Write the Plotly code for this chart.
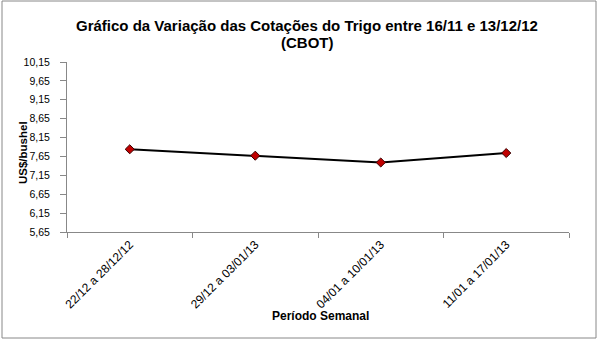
import plotly.graph_objects as go

categories = ["22/12 a 28/12/12", "29/12 a 03/01/13", "04/01 a 10/01/13", "11/01 a 17/01/13"]
values = [7.84, 7.67, 7.49, 7.74]
y_ticks = [5.65, 6.15, 6.65, 7.15, 7.65, 8.15, 8.65, 9.15, 9.65, 10.15]

W, H = 600, 340
L, R, T, B = 67, 31, 62, 108
pw, ph = W - L - R, H - T - B

def px(x):
    return (x - L) / pw

def py(y):
    return (H - B - y) / ph

fig = go.Figure()
fig.add_trace(go.Scatter(
    x=categories, y=values, mode="lines+markers",
    line=dict(color="black", width=2),
    marker=dict(symbol="diamond", size=7, color="#c00000", line=dict(color="#3a0000", width=1)),
    showlegend=False,
))

fnt = "Liberation Sans, Arial"
annotations = [
    dict(text="<b>Gráfico da Variação das Cotações do Trigo entre 16/11 e 13/12/12</b>",
         x=px(307), y=py(25), xanchor="center", yanchor="middle",
         font=dict(family=fnt, size=15, color="#000")),
    dict(text="<b>(CBOT)</b>",
         x=px(307), y=py(42), xanchor="center", yanchor="middle",
         font=dict(family=fnt, size=15, color="#000")),
    dict(text="<b>US$/bushel</b>", textangle=-90,
         x=px(23), y=py(153), xanchor="center", yanchor="middle",
         font=dict(family=fnt, size=11.5, color="#000")),
    dict(text="<b>Período Semanal</b>",
         x=px(320), y=py(316), xanchor="center", yanchor="middle",
         font=dict(family=fnt, size=12, color="#000")),
]
for a in annotations:
    a.update(xref="paper", yref="paper", showarrow=False)

fig.update_layout(
    width=W, height=H,
    margin=dict(l=L, r=R, t=T, b=B),
    paper_bgcolor="white", plot_bgcolor="white",
    separators=",.",
    font=dict(family=fnt, size=10, color="#000"),
    xaxis=dict(
        showline=True, linecolor="#888", linewidth=1,
        ticks="outside", ticklen=5, tickcolor="#888", tickson="boundaries",
        tickangle=-45, showgrid=False, zeroline=False,
        tickfont=dict(size=12, color="#000"),
        range=[-0.5, 3.5],
    ),
    yaxis=dict(
        range=[5.65, 10.15], tickvals=y_ticks, tickformat=".2f",
        showline=True, linecolor="#888", linewidth=1,
        ticks="outside", ticklen=6, tickcolor="#888", ticklabelstandoff=8,
        showgrid=False, zeroline=False,
        tickfont=dict(size=10.5, color="#000"),
    ),
    annotations=annotations,
    shapes=[dict(
        type="rect", xref="paper", yref="paper",
        x0=px(2), x1=px(596), y0=py(338), y1=py(1),
        line=dict(color="#888", width=1), fillcolor="rgba(0,0,0,0)", layer="below",
    )],
)

fig.write_html("out.html")
